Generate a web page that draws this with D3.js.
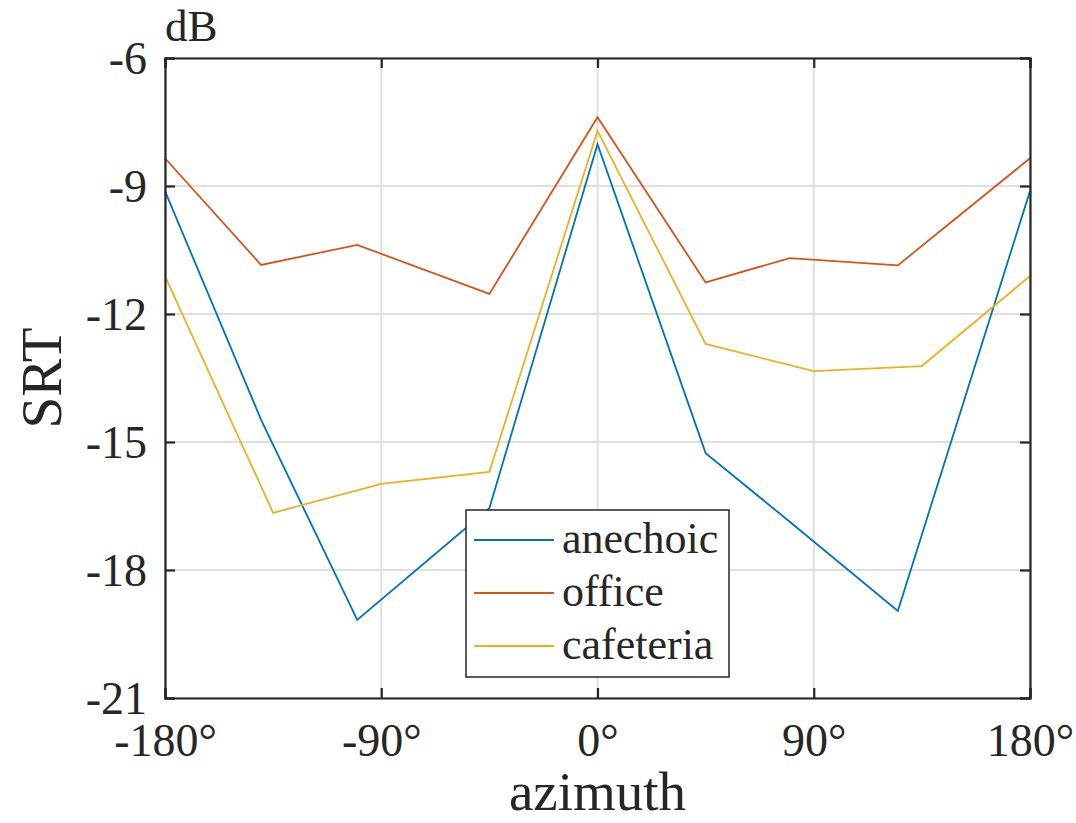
<!DOCTYPE html>
<html>
<head>
<meta charset="utf-8">
<script src="https://cdn.jsdelivr.net/npm/d3@7"></script>
<style>
  body { margin: 0; background: #fff; }
  text { font-family: "Liberation Serif", "DejaVu Serif", serif; fill: #262626; }
</style>
</head>
<body>
<div id="chart"></div>
<script>
// data
const seriesNames = ["anechoic", "office", "cafeteria"];
const seriesColors = ["#0072BD", "#D95319", "#EDB120"];

const anechoicAz = [-180, -140, -100, -45, 0, 45, 80, 125, 180];
const anechoicSRT = [-9.12, -14.48, -19.17, -16.55, -8.02, -15.26, -16.87, -18.96, -9.12];

const officeAz = [-180, -140, -100, -45, 0, 45, 80, 125, 180];
const officeSRT = [-8.35, -10.85, -10.38, -11.53, -7.39, -11.26, -10.69, -10.86, -8.35];

const cafeteriaAz = [-180, -135, -90, -45, 0, 45, 90, 135, 180];
const cafeteriaSRT = [-11.11, -16.66, -15.98, -15.70, -7.71, -12.70, -13.34, -13.22, -11.11];

const xTicks = [-180, -90, 0, 90, 180];
const yTicks = [-6, -9, -12, -15, -18, -21];

const W = 1076, H = 823;
const margin = {top: 58, right: 46, bottom: 125, left: 165};
const width = W - margin.left - margin.right,
      height = H - margin.top - margin.bottom;

const svg = d3.select("#chart")
  .append("svg")
    .attr("width", W)
    .attr("height", H);

const g = svg.append("g")
    .attr("transform", `translate(${margin.left},${margin.top})`);

const x = d3.scaleLinear().domain([-180, 180]).range([0, width]);
const y = d3.scaleLinear().domain([-21, -6]).range([height, 0]);

// grid
g.append("g")
  .selectAll("line")
  .data(xTicks)
  .join("line")
    .attr("x1", d => x(d)).attr("x2", d => x(d))
    .attr("y1", 0).attr("y2", height)
    .attr("stroke", "#dfdfdf").attr("stroke-width", 2);
g.append("g")
  .selectAll("line")
  .data(yTicks)
  .join("line")
    .attr("x1", 0).attr("x2", width)
    .attr("y1", d => y(d)).attr("y2", d => y(d))
    .attr("stroke", "#dfdfdf").attr("stroke-width", 2);

// series lines
const series = [
  {az: anechoicAz, v: anechoicSRT},
  {az: officeAz, v: officeSRT},
  {az: cafeteriaAz, v: cafeteriaSRT}
];
const line = d3.line().x(d => x(d[0])).y(d => y(d[1]));
series.forEach((s, i) => {
  g.append("path")
    .datum(s.az.map((a, j) => [a, s.v[j]]))
    .attr("fill", "none")
    .attr("stroke", seriesColors[i])
    .attr("stroke-width", 1.8)
    .attr("d", line);
});

// axes (inward ticks on all four sides, closed box)
const tickLen = 10;
const axisColor = "#262626";
const fmtY = d => String(d).replace("\u2212", "-");
const fmtX = d => (d < 0 ? "-" + Math.abs(d) : d) + "\u00b0";

const axL = g.append("g").call(d3.axisLeft(y).tickValues(yTicks).tickSize(-tickLen).tickPadding(18).tickFormat(fmtY));
const axR = g.append("g").attr("transform", `translate(${width},0)`)
  .call(d3.axisRight(y).tickValues(yTicks).tickSize(-tickLen).tickFormat(""));
const axB = g.append("g").attr("transform", `translate(0,${height})`)
  .call(d3.axisBottom(x).tickValues(xTicks).tickSize(-tickLen).tickPadding(24).tickFormat(fmtX));
const axT = g.append("g")
  .call(d3.axisTop(x).tickValues(xTicks).tickSize(-tickLen).tickFormat(""));

[axL, axR, axB, axT].forEach(a => {
  a.select(".domain").attr("stroke", axisColor).attr("stroke-width", 2.2);
  a.selectAll(".tick line").attr("stroke", axisColor).attr("stroke-width", 2.2);
  a.selectAll(".tick text")
    .attr("fill", axisColor)
    .style("font-family", "'Liberation Serif', serif")
    .style("font-size", "46px");
});
axL.selectAll(".tick text").attr("dy", "0.33em");
axB.selectAll(".tick text").attr("dy", "0.74em");

// labels
svg.append("text")
  .attr("x", margin.left).attr("y", 41)
  .style("font-size", "45px")
  .text("dB");

svg.append("text")
  .attr("x", margin.left + width / 2).attr("y", 810)
  .attr("text-anchor", "middle")
  .style("font-size", "55px")
  .text("azimuth");

svg.append("text")
  .attr("transform", `translate(61,${margin.top + height / 2}) rotate(-90)`)
  .attr("text-anchor", "middle")
  .style("font-size", "57px")
  .text("SRT");

// legend
const lgX = 466, lgY = 510, lgW = 263, lgH = 167;
const lg = svg.append("g");
lg.append("rect")
  .attr("x", lgX).attr("y", lgY).attr("width", lgW).attr("height", lgH)
  .attr("fill", "#fff").attr("stroke", axisColor).attr("stroke-width", 1.5);
const rowY = [540, 593, 646];
seriesNames.forEach((name, i) => {
  lg.append("line")
    .attr("x1", 474).attr("x2", 554)
    .attr("y1", rowY[i]).attr("y2", rowY[i])
    .attr("stroke", seriesColors[i]).attr("stroke-width", 1.8);
  lg.append("text")
    .attr("x", 562).attr("y", rowY[i])
    .attr("dy", "0.3em")
    .style("font-size", "44px")
    .text(name);
});
</script>
</body>
</html>
